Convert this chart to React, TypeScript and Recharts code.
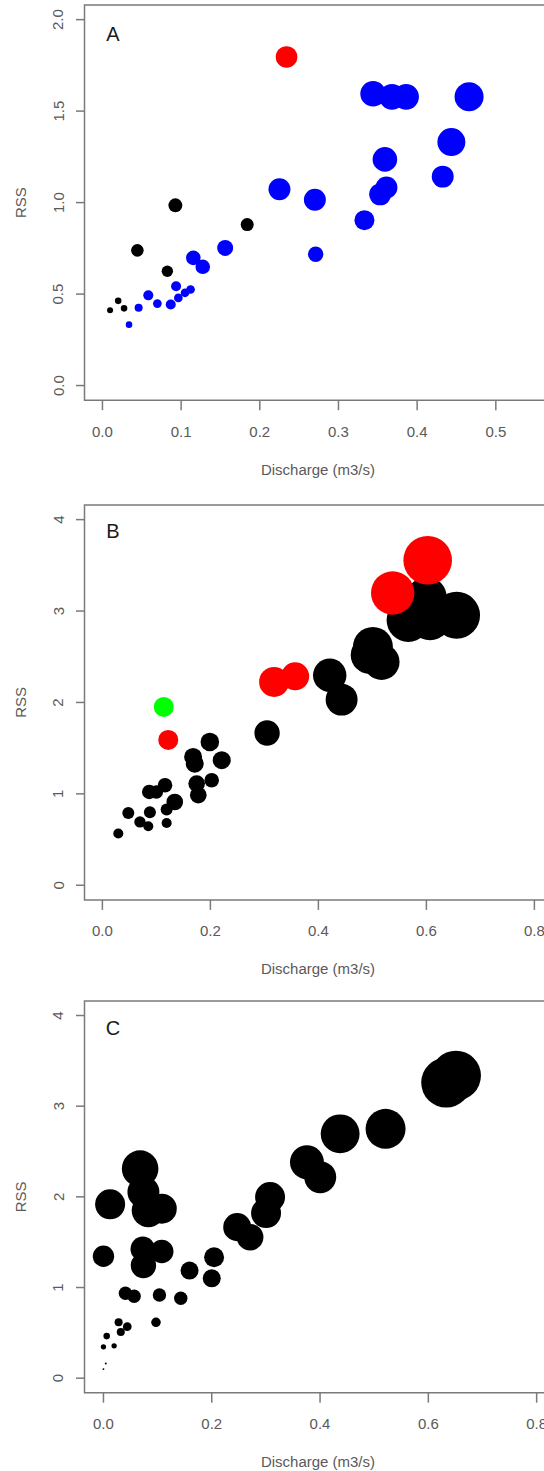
import React from 'react';
import { ScatterChart, Scatter, XAxis, YAxis, ZAxis, ReferenceArea } from 'recharts';

type Pt = { x: number; y: number; z: number };

// ---------- Panel A ----------
const aBlack: Pt[] = [
  { x: 0.0097, y: 0.411, z: 1.0 },
  { x: 0.02, y: 0.463, z: 1.2 },
  { x: 0.0275, y: 0.422, z: 1.2 },
  { x: 0.0444, y: 0.739, z: 4.4 },
  { x: 0.0825, y: 0.625, z: 3.6 },
  { x: 0.0927, y: 0.985, z: 5.4 },
  { x: 0.184, y: 0.88, z: 4.7 },
];
const aBlue: Pt[] = [
  { x: 0.0338, y: 0.333, z: 1.2 },
  { x: 0.046, y: 0.425, z: 1.8 },
  { x: 0.0583, y: 0.493, z: 2.8 },
  { x: 0.0698, y: 0.448, z: 2.1 },
  { x: 0.0868, y: 0.443, z: 2.8 },
  { x: 0.0936, y: 0.543, z: 2.8 },
  { x: 0.0965, y: 0.479, z: 2.1 },
  { x: 0.105, y: 0.507, z: 2.1 },
  { x: 0.112, y: 0.525, z: 2.1 },
  { x: 0.1155, y: 0.698, z: 5.9 },
  { x: 0.1275, y: 0.649, z: 5.9 },
  { x: 0.156, y: 0.752, z: 7.1 },
  { x: 0.225, y: 1.073, z: 13.4 },
  { x: 0.27, y: 1.015, z: 13.4 },
  { x: 0.271, y: 0.718, z: 6.6 },
  { x: 0.333, y: 0.904, z: 11.1 },
  { x: 0.344, y: 1.595, z: 18.2 },
  { x: 0.368, y: 1.578, z: 18.2 },
  { x: 0.386, y: 1.578, z: 18.2 },
  { x: 0.353, y: 1.045, z: 13.4 },
  { x: 0.361, y: 1.082, z: 13.4 },
  { x: 0.359, y: 1.236, z: 16.8 },
  { x: 0.4325, y: 1.142, z: 13.4 },
  { x: 0.4435, y: 1.331, z: 21.8 },
  { x: 0.466, y: 1.578, z: 23.4 },
];
const aRed: Pt[] = [{ x: 0.234, y: 1.796, z: 13.0 }];

// ---------- Panel B ----------
const bBlack: Pt[] = [
  { x: 0.0295, y: 0.566, z: 2.8 },
  { x: 0.048, y: 0.791, z: 4.0 },
  { x: 0.0696, y: 0.693, z: 3.6 },
  { x: 0.085, y: 0.646, z: 2.8 },
  { x: 0.088, y: 0.8, z: 4.0 },
  { x: 0.119, y: 0.682, z: 2.8 },
  { x: 0.119, y: 0.828, z: 4.0 },
  { x: 0.134, y: 0.911, z: 7.7 },
  { x: 0.0869, y: 1.021, z: 5.9 },
  { x: 0.1, y: 1.02, z: 5.0 },
  { x: 0.116, y: 1.094, z: 5.9 },
  { x: 0.168, y: 1.404, z: 9.0 },
  { x: 0.171, y: 1.33, z: 9.0 },
  { x: 0.199, y: 1.568, z: 9.6 },
  { x: 0.221, y: 1.368, z: 9.0 },
  { x: 0.1746, y: 1.113, z: 7.7 },
  { x: 0.1776, y: 0.985, z: 7.7 },
  { x: 0.2024, y: 1.149, z: 5.9 },
  { x: 0.305, y: 1.666, z: 17.9 },
  { x: 0.421, y: 2.297, z: 31.0 },
  { x: 0.443, y: 2.031, z: 28.4 },
  { x: 0.495, y: 2.52, z: 40.0 },
  { x: 0.501, y: 2.607, z: 44.4 },
  { x: 0.517, y: 2.443, z: 36.0 },
  { x: 0.5665, y: 2.899, z: 52.3 },
  { x: 0.6005, y: 3.154, z: 44.4 },
  { x: 0.6067, y: 2.918, z: 52.3 },
  { x: 0.656, y: 2.954, z: 61.0 },
];
const bRed: Pt[] = [
  { x: 0.122, y: 1.59, z: 11.1 },
  { x: 0.318, y: 2.224, z: 25.0 },
  { x: 0.357, y: 2.286, z: 21.8 },
  { x: 0.5376, y: 3.198, z: 52.3 },
  { x: 0.6024, y: 3.556, z: 65.6 },
];
const bGreen: Pt[] = [{ x: 0.1137, y: 1.951, z: 11.1 }];

// ---------- Panel C ----------
const cBlack: Pt[] = [
  { x: 0.0, y: 0.1, z: 0.1 },
  { x: 0.0043, y: 0.162, z: 0.1 },
  { x: 0.0, y: 0.346, z: 0.8 },
  { x: 0.0197, y: 0.357, z: 0.8 },
  { x: 0.006, y: 0.464, z: 1.2 },
  { x: 0.028, y: 0.616, z: 1.8 },
  { x: 0.032, y: 0.509, z: 1.8 },
  { x: 0.044, y: 0.568, z: 2.1 },
  { x: 0.097, y: 0.616, z: 2.5 },
  { x: 0.0406, y: 0.936, z: 5.0 },
  { x: 0.0566, y: 0.903, z: 5.0 },
  { x: 0.1034, y: 0.918, z: 5.0 },
  { x: 0.1428, y: 0.881, z: 5.0 },
  { x: 0.159, y: 1.187, z: 9.0 },
  { x: 0.2, y: 1.102, z: 9.0 },
  { x: 0.2043, y: 1.334, z: 11.1 },
  { x: 0.0, y: 1.345, z: 12.7 },
  { x: 0.0726, y: 1.426, z: 16.8 },
  { x: 0.1077, y: 1.397, z: 15.2 },
  { x: 0.0738, y: 1.242, z: 17.9 },
  { x: 0.0123, y: 1.917, z: 25.0 },
  { x: 0.0677, y: 2.311, z: 37.2 },
  { x: 0.0738, y: 2.053, z: 28.4 },
  { x: 0.083, y: 1.85, z: 31.0 },
  { x: 0.1077, y: 1.869, z: 25.0 },
  { x: 0.247, y: 1.666, z: 21.8 },
  { x: 0.2708, y: 1.555, z: 19.7 },
  { x: 0.3077, y: 1.998, z: 25.0 },
  { x: 0.3003, y: 1.821, z: 25.0 },
  { x: 0.3758, y: 2.382, z: 32.0 },
  { x: 0.4003, y: 2.217, z: 28.4 },
  { x: 0.4371, y: 2.695, z: 42.0 },
  { x: 0.521, y: 2.75, z: 44.4 },
  { x: 0.633, y: 3.26, z: 69.4 },
  { x: 0.651, y: 3.337, z: 69.4 },
];

// ---------- Tick labels ----------
const aXTicks = [0, 0.1, 0.2, 0.3, 0.4, 0.5];
const aYTicks = [0, 0.5, 1.0, 1.5, 2.0];
const bcXTicks = [0, 0.2, 0.4, 0.6, 0.8];
const bcYTicks = [0, 1, 2, 3, 4];

const X_TITLE = 'Discharge (m3/s)';
const Y_TITLE = 'RSS';

const AXIS_COLOR = '#7a7a7a';
const TEXT_COLOR = '#5a5a5a';
const FONT = '"Liberation Sans", Arial, sans-serif';

type Series = { data: Pt[]; color: string };

type PanelProps = {
  letter: string;
  plotTop: number;
  plotBottom: number;
  letterOffset: number;
  xDomain: [number, number];
  yDomain: [number, number];
  xTicks: number[];
  yTicks: number[];
  xDigits: number;
  yDigits: number;
  series: Series[];
};

const CHART_W = 620;
const RIGHT_M = 20;
const LEFT_M = 24.5;
const YAXIS_W = 60;
const XAXIS_H = 85;
const TOP_M = 5;

function Panel(p: PanelProps) {
  const ph = p.plotBottom - p.plotTop;
  const H = ph + TOP_M + XAXIS_H;
  const XTick = (props: any) => (
    <text
      x={props.x}
      y={props.y}
      textAnchor="middle"
      dominantBaseline="central"
      fill={TEXT_COLOR}
      fontSize={15}
      fontFamily={FONT}
    >
      {Number(props.payload.value).toFixed(p.xDigits)}
    </text>
  );
  const YTick = (props: any) => (
    <text
      x={props.x}
      y={props.y}
      transform={`rotate(-90 ${props.x} ${props.y})`}
      textAnchor="middle"
      dominantBaseline="central"
      fill={TEXT_COLOR}
      fontSize={15}
      fontFamily={FONT}
    >
      {Number(props.payload.value).toFixed(p.yDigits)}
    </text>
  );
  return (
    <div style={{ position: 'absolute', left: 0, top: p.plotTop - TOP_M }}>
      <ScatterChart
        width={CHART_W}
        height={H}
        margin={{ top: TOP_M, right: RIGHT_M, bottom: 0, left: LEFT_M }}
      >
        <XAxis
          type="number"
          dataKey="x"
          domain={p.xDomain}
          ticks={p.xTicks}
          allowDataOverflow
          height={XAXIS_H}
          axisLine={false}
          tickLine={{ stroke: AXIS_COLOR, strokeWidth: 1.5 }}
          tickSize={10}
          tickMargin={21}
          tick={XTick}
          interval={0}
          label={{
            content: (lp: any) => (
              <text
                x={318}
                y={lp.viewBox.y + 69}
                textAnchor="middle"
                dominantBaseline="central"
                fill={TEXT_COLOR}
                fontSize={15}
                fontFamily={FONT}
              >
                {X_TITLE}
              </text>
            ),
          }}
        />
        <YAxis
          type="number"
          dataKey="y"
          domain={p.yDomain}
          ticks={p.yTicks}
          allowDataOverflow
          width={YAXIS_W}
          axisLine={false}
          tickLine={{ stroke: AXIS_COLOR, strokeWidth: 1.5 }}
          tickSize={8.5}
          tickMargin={18}
          tick={YTick}
          interval={0}
          label={{
            content: (lp: any) => {
              const cy = lp.viewBox.y + lp.viewBox.height / 2;
              return (
                <text
                  x={20.5}
                  y={cy}
                  transform={`rotate(-90 20.5 ${cy})`}
                  textAnchor="middle"
                  dominantBaseline="central"
                  fill={TEXT_COLOR}
                  fontSize={15}
                  fontFamily={FONT}
                >
                  {Y_TITLE}
                </text>
              );
            },
          }}
        />
        <ZAxis type="number" dataKey="z" domain={[0, 100]} range={[0, 900 * Math.PI]} />
        <ReferenceArea
          x1={p.xDomain[0]}
          x2={p.xDomain[1]}
          y1={p.yDomain[0]}
          y2={p.yDomain[1]}
          fill="none"
          fillOpacity={0}
          stroke={AXIS_COLOR}
          strokeWidth={1.5}
          ifOverflow="visible"
          label={{
            content: (lp: any) => (
              <text
                x={113}
                y={lp.viewBox.y + p.letterOffset}
                textAnchor="middle"
                dominantBaseline="central"
                fill="#1a1a1a"
                fontSize={20}
                fontFamily={FONT}
              >
                {p.letter}
              </text>
            ),
          }}
        />
        {p.series.map((s, i) => (
          <Scatter
            key={i}
            data={s.data}
            fill={s.color}
            shape="circle"
            isAnimationActive={false}
          />
        ))}
      </ScatterChart>
    </div>
  );
}

export default function App() {
  return (
    <div
      style={{
        position: 'absolute',
        left: 0,
        top: 0,
        width: 544,
        height: 1471,
        overflow: 'hidden',
        background: '#ffffff',
      }}
    >
      <Panel
        letter="A"
        plotTop={5.4}
        plotBottom={400.6}
        letterOffset={29}
        xDomain={[-0.0228, 0.6324]}
        yDomain={[-0.08, 2.08]}
        xTicks={aXTicks}
        yTicks={aYTicks}
        xDigits={1}
        yDigits={1}
        series={[
          { data: aBlack, color: '#000000' },
          { data: aBlue, color: '#0000ff' },
          { data: aRed, color: '#ff0000' },
        ]}
      />
      <Panel
        letter="B"
        plotTop={504.7}
        plotBottom={899.6}
        letterOffset={26}
        xDomain={[-0.0331, 0.9215]}
        yDomain={[-0.16, 4.16]}
        xTicks={bcXTicks}
        yTicks={bcYTicks}
        xDigits={1}
        yDigits={0}
        series={[
          { data: bBlack, color: '#000000' },
          { data: bRed, color: '#ff0000' },
          { data: bGreen, color: '#00ff00' },
        ]}
      />
      <Panel
        letter="C"
        plotTop={1000.5}
        plotBottom={1392.2}
        letterOffset={27}
        xDomain={[-0.035, 0.917]}
        yDomain={[-0.16, 4.16]}
        xTicks={bcXTicks}
        yTicks={bcYTicks}
        xDigits={1}
        yDigits={0}
        series={[{ data: cBlack, color: '#000000' }]}
      />
    </div>
  );
}
